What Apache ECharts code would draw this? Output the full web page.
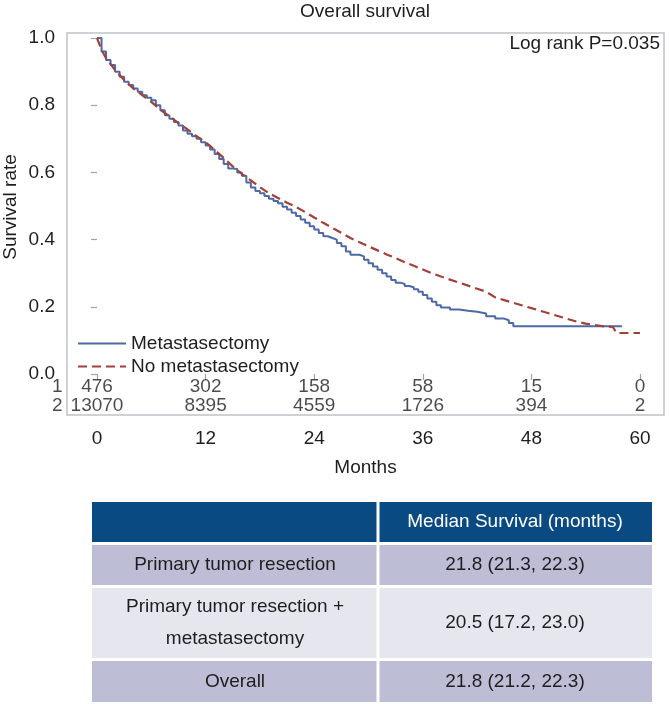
<!DOCTYPE html>
<html>
<head>
<meta charset="utf-8">
<script src="https://cdn.jsdelivr.net/npm/echarts@6/dist/echarts.min.js"></script>
<style>
html,body{margin:0;padding:0;background:#fff;}
#chart{width:669px;height:704px;}
</style>
</head>
<body>
<div id="chart"></div>
<script>
// ---- data ----
const chartTitle = 'Overall survival';
const pValueText = 'Log rank P=0.035';
const seriesNames = ['Metastasectomy', 'No metastasectomy'];

const metMonths = [0,0.5,1,1.5,2,2.5,3,3.5,4,4.5,5,5.5,6,6.5,7,7.5,8,8.5,9,9.5,10,10.5,11,11.5,12,12.5,13,13.5,14,14.5,15,15.5,16,16.5,17,17.5,18,18.5,19,19.5,20,20.5,21,21.5,22,22.5,23,23.5,24,24.5,25,25.5,26,26.5,27,27.5,28,29,29.5,30,30.5,31,31.5,32,32.5,33,33.5,34,34.5,35,35.5,36,36.5,37,37.5,38,39,40,41,42,43,44,45,45.5,46,58];
const metSurv   = [1.0,0.96,0.935,0.92,0.9,0.885,0.87,0.86,0.85,0.84,0.83,0.822,0.815,0.8,0.785,0.77,0.76,0.75,0.74,0.725,0.715,0.708,0.7,0.69,0.68,0.668,0.655,0.64,0.625,0.612,0.61,0.6,0.59,0.57,0.555,0.545,0.538,0.53,0.522,0.515,0.508,0.498,0.49,0.48,0.47,0.46,0.45,0.44,0.43,0.42,0.41,0.405,0.4,0.39,0.38,0.365,0.355,0.35,0.34,0.33,0.32,0.31,0.3,0.29,0.28,0.272,0.268,0.262,0.258,0.252,0.245,0.235,0.225,0.215,0.205,0.198,0.192,0.188,0.185,0.18,0.172,0.165,0.16,0.152,0.142,0.142];

const noMetMonths = [0,0.5,1,2,3,4,5,6,7,8,9,10,11,12,13,14,15,16,17,18,19,20,21,22,23,24,25,26,27,28,29,30,31,32,33,34,35,36,37,38,39,40,41,42,43,44,45,46,47,48,49,50,51,52,53,54,55,56,57,57.4,58,60];
const noMetSurv   = [1.0,0.965,0.94,0.905,0.875,0.85,0.83,0.81,0.787,0.767,0.747,0.728,0.708,0.69,0.667,0.643,0.618,0.596,0.576,0.556,0.538,0.524,0.51,0.497,0.482,0.466,0.45,0.435,0.42,0.405,0.392,0.38,0.368,0.356,0.345,0.333,0.322,0.311,0.3,0.29,0.281,0.272,0.263,0.254,0.245,0.228,0.22,0.212,0.204,0.196,0.188,0.18,0.172,0.164,0.156,0.15,0.146,0.142,0.14,0.122,0.122,0.122];

const riskTimes = [0,12,24,36,48,60];
const riskMet   = [476,302,158,58,15,0];
const riskNoMet = [13070,8395,4559,1726,394,2];
const riskRowIds = ['1','2'];

const xTicks = [0,12,24,36,48,60];
const yTicks = [0,0.2,0.4,0.6,0.8,1.0];
const xTitle = 'Months';
const yTitle = 'Survival rate';

const tableHeader = ['', 'Median Survival (months)'];
const tableGroups = [['Primary tumor resection'], ['Primary tumor resection +', 'metastasectomy'], ['Overall']];
const tableValues = ['21.8 (21.3, 22.3)', '20.5 (17.2, 23.0)', '21.8 (21.2, 22.3)'];

// ---- chart ----
const FONT = '"Liberation Sans", Arial, Helvetica, sans-serif';
const FS = 19;
const TXT = '#1e1e1e';
const chart = echarts.init(document.getElementById('chart'), null, {renderer: 'canvas'});

const zip = (a, b) => a.map((v, i) => [v, b[i]]);

// risk table rows positions in data units (below 0 inside frame)
const riskY = [-0.039, -0.096];

function riskSeries(values, yv) {
  return {
    type: 'scatter', xAxisIndex: 0, yAxisIndex: 0,
    symbol: 'circle', symbolSize: 1, silent: true,
    itemStyle: {color: 'rgba(0,0,0,0)'},
    data: riskTimes.map((t, i) => [t, yv, values[i]]),
    label: {show: true, position: 'inside', formatter: p => String(p.value[2]),
      fontFamily: FONT, fontSize: FS, color: TXT},
    z: 5
  };
}
function rowIdSeries() {
  return {
    type: 'scatter', symbol: 'circle', symbolSize: 1, silent: true,
    itemStyle: {color: 'rgba(0,0,0,0)'},
    data: riskRowIds.map((id, i) => ({value: [-3.3, riskY[i]], name: id})),
    label: {show: true, position: 'left', distance: 4, formatter: p => p.name,
      fontFamily: FONT, fontSize: FS, color: TXT},
    z: 5
  };
}

// table graphic
const tL = 92, tR = 652, tSplit = 378, tTop = 502;
const rowH = [40, 40, 70, 41];
const gap = 3;
const rowFill = ['#0a4a82', '#bdbdd6', '#e6e6ef', '#bdbdd6'];
const tableGraphics = [];
let yy = tTop;
for (let r = 0; r < 4; r++) {
  const h = rowH[r];
  tableGraphics.push({type: 'rect', shape: {x: tL, y: yy, width: tSplit - tL - 1.5, height: h}, style: {fill: rowFill[r]}, silent: true});
  tableGraphics.push({type: 'rect', shape: {x: tSplit + 1.5, y: yy, width: tR - tSplit - 1.5, height: h}, style: {fill: rowFill[r]}, silent: true});
  const cy = yy + h / 2;
  if (r === 0) {
    tableGraphics.push({type: 'text', x: (tSplit + tR) / 2, y: cy, style: {text: tableHeader[1], textAlign: 'center', textVerticalAlign: 'middle', fill: '#ffffff', font: FS + 'px ' + FONT}, silent: true});
  } else {
    tableGraphics.push({type: 'text', x: (tL + tSplit) / 2, y: cy, style: {text: tableGroups[r-1].join('\n'), textAlign: 'center', textVerticalAlign: 'middle', fill: TXT, font: FS + 'px ' + FONT, lineHeight: 32}, silent: true});
    tableGraphics.push({type: 'text', x: (tSplit + tR) / 2, y: cy, style: {text: tableValues[r-1], textAlign: 'center', textVerticalAlign: 'middle', fill: TXT, font: FS + 'px ' + FONT}, silent: true});
  }
  yy += h + gap;
}

const option = {
  backgroundColor: '#ffffff',
  animation: false,
  textStyle: {fontFamily: FONT},
  grid: {left: 67, right: 5, top: 33, bottom: 289, show: true, borderColor: '#bfc3ca', borderWidth: 1.5, backgroundColor: 'transparent'},
  xAxis: {
    type: 'value', min: -3.315, max: 62.65, offset: 9,
    axisLine: {show: false},
    axisTick: {show: true, customValues: xTicks, length: 6, lineStyle: {color: '#9ea2a9', width: 1.2}},
    axisLabel: {show: true, customValues: xTicks, margin: 5, fontSize: FS, color: TXT, fontFamily: FONT},
    splitLine: {show: false},
    name: xTitle, nameLocation: 'middle', nameGap: 34,
    nameTextStyle: {fontSize: FS, color: TXT, fontFamily: FONT}
  },
  yAxis: {
    type: 'value', min: -0.122, max: 1.015,
    axisLine: {show: false},
    axisTick: {show: true, customValues: yTicks, length: 6, lineStyle: {color: '#9ea2a9', width: 1.2}},
    axisLabel: {show: true, customValues: yTicks, margin: 12, fontSize: FS, color: TXT, fontFamily: FONT,
      formatter: v => v.toFixed(1)},
    splitLine: {show: false}
  },
  legend: {
    data: seriesNames, orient: 'vertical', left: 72, top: 329, itemWidth: 48, itemHeight: 14, itemGap: 4,
    itemStyle: {opacity: 0},
    textStyle: {fontSize: FS, color: TXT, fontFamily: FONT}, selectedMode: false
  },
  graphic: [
    {type: 'text', x: 365, y: 12, style: {text: chartTitle, textAlign: 'center', textVerticalAlign: 'middle', fill: TXT, font: FS + 'px ' + FONT}},
    {type: 'text', x: 660, y: 44, style: {text: pValueText, textAlign: 'right', textVerticalAlign: 'middle', fill: TXT, font: FS + 'px ' + FONT}},
    {type: 'text', x: 11, y: 207, rotation: Math.PI / 2, style: {text: yTitle, textAlign: 'center', textVerticalAlign: 'middle', fill: TXT, font: FS + 'px ' + FONT}}
  ].concat(tableGraphics),
  series: [
    {name: seriesNames[0], type: 'line', step: 'end', symbol: 'none', data: zip(metMonths, metSurv),
      lineStyle: {color: '#4e6aa4', width: 2}, itemStyle: {color: '#4e6aa4'}, z: 3},
    {name: seriesNames[1], type: 'line', symbol: 'none', smooth: false, data: zip(noMetMonths, noMetSurv),
      lineStyle: {color: '#a2403a', width: 2.2, type: [9, 5]}, itemStyle: {color: '#a2403a'}, z: 4},
    riskSeries(riskMet, riskY[0]),
    riskSeries(riskNoMet, riskY[1]),
    rowIdSeries()
  ]
};
chart.setOption(option);
</script>
</body>
</html>
